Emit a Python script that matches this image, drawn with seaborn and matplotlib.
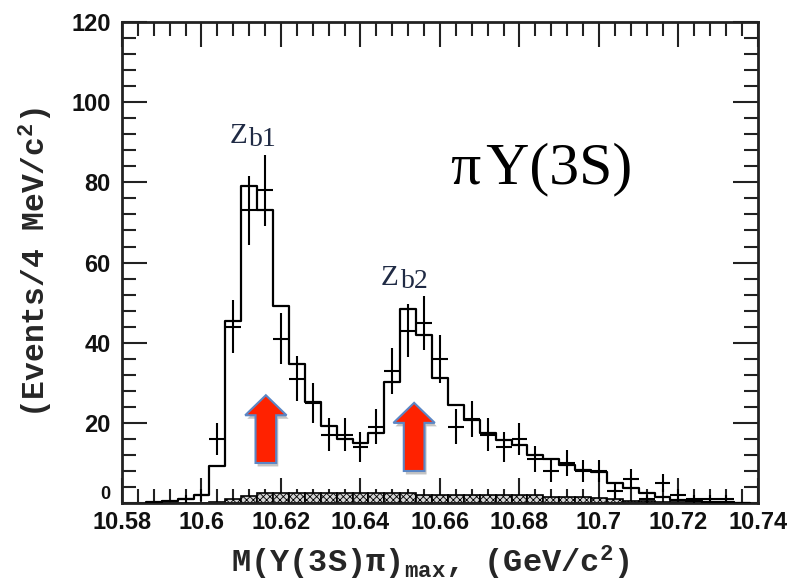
import numpy as np
import pandas as pd
import matplotlib
matplotlib.use("Agg")
import matplotlib.pyplot as plt
import matplotlib.patheffects as pe
from matplotlib.patches import FancyArrow
from matplotlib.ticker import MultipleLocator
import seaborn as sns

# ---------------- data ----------------
bin_width = 0.004
# fit histogram (bin centres and heights)
fit_centers = [10.588, 10.592, 10.596, 10.600, 10.604, 10.608, 10.612, 10.616,
               10.620, 10.624, 10.628, 10.632, 10.636, 10.640, 10.644, 10.648,
               10.652, 10.656, 10.660, 10.664, 10.668, 10.672, 10.676, 10.680,
               10.684, 10.688, 10.692, 10.696, 10.700, 10.704, 10.708, 10.712,
               10.716, 10.720, 10.724, 10.728, 10.732, 10.736]
fit_values = [0.2, 0.5, 1.0, 2.0, 9.2, 45.4, 79.0, 73.0,
              49.1, 34.8, 25.3, 19.2, 16.1, 15.0, 17.5, 30.3,
              48.3, 41.9, 31.1, 24.4, 20.7, 17.4, 15.7, 14.5,
              12.0, 11.1, 9.5, 8.2, 7.8, 5.1, 3.7, 2.4,
              1.4, 0.8, 0.4, 0.3, 0.2, 0.1]
# background (hatched band)
bkg_values = [0.0, 0.0, 0.0, 0.0, 0.2, 0.9, 1.7, 2.6,
              2.6, 2.6, 2.6, 2.6, 2.6, 2.6, 2.6, 2.6,
              2.6, 2.1, 2.1, 2.1, 2.1, 2.1, 2.1, 2.1,
              2.1, 1.5, 1.5, 1.5, 1.2, 0.9, 0.6, 0.5,
              0.3, 0.2, 0.1, 0.1, 0.1, 0.1]
# data points (events per bin)
data_centers = [10.596, 10.600, 10.604, 10.608, 10.612, 10.616, 10.620, 10.624,
                10.628, 10.632, 10.636, 10.640, 10.644, 10.648, 10.652, 10.656,
                10.660, 10.664, 10.668, 10.672, 10.676, 10.680, 10.684, 10.688,
                10.692, 10.696, 10.700, 10.704, 10.708, 10.712, 10.716, 10.720,
                10.724, 10.728, 10.732]
data_counts = [1, 2, 16, 44, 73, 78, 41, 31,
               25, 17, 17, 14, 19, 33, 43, 45,
               36, 19, 21, 17, 14, 16, 11, 8,
               10, 8, 8, 3, 6, 1, 5, 2,
               1, 1, 1]

xtick_values = [10.58, 10.60, 10.62, 10.64, 10.66, 10.68, 10.70, 10.72, 10.74]
xtick_labels = ["10.58", "10.6", "10.62", "10.64", "10.66", "10.68", "10.7", "10.72", "10.74"]
ytick_values = [0, 20, 40, 60, 80, 100, 120]

# arrow annotations: (x, y_base, y_tip)
arrows = [(10.6162, 10.0, 26.9), (10.6535, 8.0, 25.0)]

# ---------------- style ----------------
sns.set_style("ticks")
plt.rcParams["font.family"] = ["Liberation Sans", "DejaVu Sans"]
plt.rcParams["mathtext.fontset"] = "custom"
plt.rcParams["mathtext.rm"] = "Liberation Mono:bold"
plt.rcParams["mathtext.it"] = "Liberation Mono:bold"
plt.rcParams["mathtext.bf"] = "Liberation Mono:bold"
plt.rcParams["hatch.linewidth"] = 0.6

fig = plt.figure(figsize=(7.92, 5.87), dpi=100)
ax = fig.add_axes([0.154, 0.143, 0.957 - 0.154, 0.9625 - 0.143])

edges = [round(c - bin_width / 2, 4) for c in fit_centers] + [round(fit_centers[-1] + bin_width / 2, 4)]
fit_df = pd.DataFrame({"m": fit_centers, "fit": fit_values, "bkg": bkg_values})

# hatched background band
sns.histplot(data=fit_df, x="m", weights="bkg", bins=edges, element="bars",
             fill=True, facecolor="#d4d4d4", edgecolor="black", linewidth=1.2,
             hatch="xxxxx", alpha=1, ax=ax, zorder=2)
# fit histogram
sns.histplot(data=fit_df, x="m", weights="fit", bins=edges, element="step",
             fill=False, color="black", linewidth=1.6, ax=ax, zorder=3)

# data points with Poisson errors
counts = np.array(data_counts, dtype=float)
ax.errorbar(data_centers, counts, yerr=np.sqrt(counts), xerr=bin_width / 2,
            fmt="none", ecolor="black", elinewidth=1.5, capsize=0, zorder=4)

# arrows
for (xa, yb, yt) in arrows:
    arr = FancyArrow(xa, yb, 0, yt - yb, width=0.0052, head_width=0.0104,
                     head_length=5.0, length_includes_head=True,
                     facecolor="#ff2200", edgecolor="#5b86c5", linewidth=1.5,
                     zorder=6)
    arr.set_path_effects([pe.SimplePatchShadow(offset=(1.5, -2.5), shadow_rgbFace="#888888", alpha=0.5),
                          pe.Normal()])
    ax.add_patch(arr)

# labels Zb1 / Zb2
zcol = "#1f2a44"
ax.text(10.6070, 89.8, "Z", fontsize=21, family="Liberation Serif", color=zcol, va="baseline")
ax.text(10.6120, 89.0, "b1", fontsize=20, family="Liberation Serif", color=zcol, va="baseline")
ax.text(10.6451, 54.4, "Z", fontsize=21, family="Liberation Serif", color=zcol, va="baseline")
ax.text(10.6502, 53.6, "b2", fontsize=20, family="Liberation Serif", color=zcol, va="baseline")

ax.text(10.6628, 79.8, "π\u200aΥ(3S)", fontsize=43, family=["Liberation Serif", "DejaVu Serif"],
        color="black", va="baseline")

# axes
ax.set_xlim(10.58, 10.74)
ax.set_ylim(0, 120)
ax.set_xticks(xtick_values)
ax.set_xticklabels(xtick_labels)
ax.set_yticks(ytick_values)
ax.xaxis.set_minor_locator(MultipleLocator(0.004))
ax.yaxis.set_minor_locator(MultipleLocator(4))
ax.tick_params(which="both", direction="in", top=True, right=True, width=1.5, color="#222222")
ax.tick_params(which="major", length=18)
ax.tick_params(which="minor", length=10)
ax.tick_params(axis="x", which="major", pad=6)
ax.tick_params(axis="y", which="major", pad=8)
for lab in ax.get_xticklabels() + ax.get_yticklabels():
    lab.set_fontsize(17)
    lab.set_fontweight("bold")
    lab.set_color("#111111")
# the zero label is small and squeezed above the x tick labels, as in the reference
zero_lab = ax.get_yticklabels()[0]
zero_lab.set_fontsize(13)
zero_lab.set_verticalalignment("bottom")

for sp in ax.spines.values():
    sp.set_linewidth(2)
    sp.set_color("#222222")

ax.set_xlabel(r"M(Υ(3S)π)$_{\mathrm{max}}$, (GeV/c$^{\mathrm{2}}$)",
              fontsize=23, family="Liberation Mono", fontweight="bold", labelpad=6)
ax.xaxis.set_label_coords(0.485, -0.085)
ax.xaxis.label.set_verticalalignment("top")
ax.set_ylabel(r"(Events/4 MeV/c$^{\mathrm{2}}$)", fontsize=22.5,
              family="Liberation Mono", fontweight="bold", labelpad=12)

fig.savefig("out.png", dpi=100)
